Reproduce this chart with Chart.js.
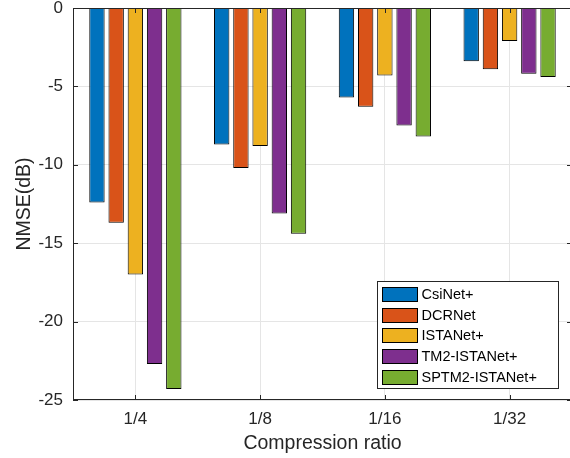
<!DOCTYPE html>
<html>
<head>
<meta charset="utf-8">
<script src="https://cdn.jsdelivr.net/npm/chart.js@4/dist/chart.umd.min.js"></script>
<style>
html,body{margin:0;padding:0;background:#fff;overflow:hidden;width:570px;height:458px}
canvas{display:block}
</style>
</head>
<body>
<canvas id="nmseChart" width="572" height="458"></canvas>
<script>
// compression ratios on the x axis
let ratios = ["1/4","1/8","1/16","1/32"]

// NMSE in dB
let csiNet = [-12.4,-8.7,-5.7,-3.4]
let dcrNet = [-13.7,-10.2,-6.3,-3.9]
let istaNet = [-17.0,-8.8,-4.3,-2.1]
let tm2Ista = [-22.7,-13.1,-7.5,-4.2]
let sptm2Ista = [-24.3,-14.4,-8.2,-4.4]

let seriesNames = ["CsiNet+","DCRNet","ISTANet+","TM2-ISTANet+","SPTM2-ISTANet+"]
let seriesColors = ["#0072BD","#D95319","#EDB120","#7E2F8E","#77AC30"]

let yTicks = [0,-5,-10,-15,-20,-25]

const FONT = "'Liberation Sans', Arial, Helvetica, sans-serif"
const INK = "#262626"


// box round the axes plus the little inward ticks matlab draws
const frame = {
id:"frame",
afterDatasetsDraw(chart){
const {ctx, chartArea:a, scales:{x,y}} = chart
ctx.save()
ctx.strokeStyle = INK
ctx.lineWidth = 1
ctx.strokeRect(a.left+0.5, a.top+0.5, a.right-a.left-1, a.bottom-a.top-1)
ctx.beginPath()
x.ticks.forEach((t,i)=>{
let px = Math.round(x.getPixelForTick(i))+0.5
ctx.moveTo(px,a.bottom); ctx.lineTo(px,a.bottom-5)
ctx.moveTo(px,a.top); ctx.lineTo(px,a.top+5)
})
y.ticks.forEach((t,i)=>{
let py = Math.round(y.getPixelForTick(i))+0.5
ctx.moveTo(a.left,py); ctx.lineTo(a.left+5,py)
ctx.moveTo(a.right,py); ctx.lineTo(a.right-5,py)
})
ctx.stroke()
ctx.restore()
}
}


// legend sitting inside the plot, bottom right
const boxLegend = {
id:"boxLegend",
afterDraw(chart){
const {ctx, chartArea:a} = chart
let sets = chart.data.datasets
let w = 181, h = 107
let left = a.right - 195 + 0.5
let top = a.bottom - 119 + 0.5
ctx.save()
ctx.fillStyle = "#fff"
ctx.fillRect(left,top,w,h)
ctx.strokeStyle = INK
ctx.lineWidth = 1
ctx.strokeRect(left,top,w,h)
ctx.font = "14.5px " + FONT
ctx.textBaseline = "middle"
sets.forEach((ds,i)=>{
let sy = Math.round(top + 5.5 + i*20.7) + 0.5
ctx.fillStyle = ds.backgroundColor
ctx.fillRect(left+5, sy, 35, 14)
ctx.strokeStyle = "#000"
ctx.strokeRect(left+5, sy, 35, 14)
ctx.fillStyle = "#000"
ctx.fillText(ds.label, left+44, sy+7.5)
})
ctx.restore()
}
}


let seriesData = [csiNet,dcrNet,istaNet,tm2Ista,sptm2Ista]

new Chart(document.getElementById("nmseChart"),{
type:"bar",
data:{
labels:ratios,
datasets:seriesData.map((d,i)=>({
label:seriesNames[i],
data:d,
backgroundColor:seriesColors[i],
borderColor:"#000",
borderWidth:1,
borderSkipped:"start",
categoryPercentage:0.77,
barPercentage:0.8
}))
},
options:{
responsive:false,
animation:false,
layout:{padding:{top:8,right:0,left:0,bottom:0}},
plugins:{
legend:{display:false},
tooltip:{enabled:false}
},
scales:{
x:{
offset:true,
grid:{offset:false,color:"#e5e5e5",drawTicks:false},
border:{display:false},
ticks:{color:INK,font:{family:FONT,size:17},padding:9},
title:{display:true,text:"Compression ratio",color:INK,font:{family:FONT,size:19.5},padding:{top:0,bottom:3}},
afterFit(s){ s.height = 58; s.paddingLeft = 0; s.paddingRight = 0 }
},
y:{
min:-25,
max:0,
afterBuildTicks(s){ s.ticks = yTicks.map(v=>({value:v})) },
grid:{color:"#e5e5e5",drawTicks:false},
border:{display:false},
ticks:{color:INK,font:{family:FONT,size:17},padding:10},
title:{display:true,text:"NMSE(dB)",color:INK,font:{family:FONT,size:19.5},padding:{top:13,bottom:0}},
afterFit(s){ s.width = 73; s.paddingTop = 0; s.paddingBottom = 0 }
}
}
},
plugins:[frame,boxLegend]
})
</script>
</body>
</html>
